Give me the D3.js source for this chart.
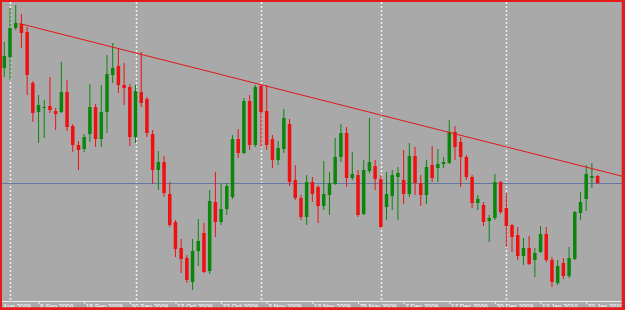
<!DOCTYPE html>
<html>
<head>
<meta charset="utf-8">
<script src="https://cdn.jsdelivr.net/npm/d3@7"></script>
<style>
  body { margin: 0; background: #fff; }
  svg { display: block; }
</style>
</head>
<body>
<div id="chart"></div>
<script>
'use strict';
    //daily bars from 31 Aug 2009 to 26 Jan 2010 (bigger = higher price)
    const open = [242, 253, 282, 286, 278, 227, 198, 202, 204, 199,
        198, 218, 184, 165, 161, 176, 203, 171, 198, 235,
        244, 225, 223, 173, 218, 211, 176, 140, 148, 116,
        88, 62, 52, 28, 59, 77, 39, 108, 88, 101,
        113, 171, 157, 209, 165, 224, 199, 171, 150, 161,
        186, 130, 112, 93, 128, 123, 104, 115, 126, 153,
        177, 132, 135, 96, 139, 144, 131, 103, 114, 133,
        130, 116, 154, 127, 115, 145, 142, 146, 147, 178,
        168, 153, 133, 107, 105, 89, 92, 128, 102, 85,
        75, 54, 62, 50, 58, 76, 50, 27, 47, 34,
        51, 97, 111, 132, 134];
    const close = [254, 282, 287, 277, 235, 197, 205, 203, 200, 196,
        218, 183, 165, 160, 173, 203, 171, 198, 236, 242,
        225, 222, 173, 219, 207, 177, 140, 148, 117, 85,
        61, 51, 30, 59, 69, 38, 109, 88, 101, 124,
        171, 157, 209, 165, 223, 198, 165, 150, 162, 192,
        128, 112, 93, 128, 116, 104, 116, 127, 153, 177,
        132, 136, 95, 140, 148, 131, 83, 116, 135, 137,
        116, 154, 127, 115, 143, 132, 146, 148, 178, 163,
        153, 133, 107, 111, 88, 92, 128, 98, 84, 73,
        54, 62, 46, 57, 76, 50, 28, 44, 34, 52,
        98, 108, 136, 134, 127];
    const high = [268, 302, 305, 296, 283, 229, 215, 210, 233, 202,
        248, 230, 186, 169, 176, 226, 206, 225, 255, 267,
        262, 247, 226, 225, 258, 213, 180, 159, 154, 128,
        90, 71, 55, 71, 91, 87, 120, 138, 127, 127,
        175, 181, 212, 215, 225, 226, 225, 175, 169, 201,
        191, 145, 115, 135, 133, 125, 149, 138, 172, 186,
        183, 158, 140, 150, 192, 150, 135, 138, 140, 143,
        160, 167, 163, 135, 150, 164, 161, 153, 190, 184,
        173, 155, 135, 115, 108, 95, 136, 129, 117, 86,
        83, 72, 74, 62, 84, 83, 53, 50, 52, 63,
        99, 118, 145, 147, 135];
    const low = [233, 230, 280, 262, 215, 188, 167, 172, 197, 180,
        197, 179, 158, 140, 158, 168, 163, 163, 177, 227,
        217, 205, 164, 167, 203, 173, 126, 120, 113, 83,
        53, 37, 27, 20, 44, 37, 36, 73, 85, 95,
        111, 152, 156, 160, 163, 163, 160, 142, 145, 157,
        124, 110, 90, 85, 108, 87, 100, 95, 125, 148,
        123, 130, 93, 95, 137, 120, 82, 90, 100, 90,
        106, 113, 115, 104, 106, 128, 128, 142, 146, 150,
        123, 130, 102, 100, 84, 68, 90, 96, 63, 58,
        50, 45, 45, 33, 57, 48, 23, 25, 31, 32,
        50, 90, 99, 122, 126];
    //no bars on these days
    const holidays = ["2009-12-25", "2010-01-01"];
    //dates under the time axis
    const tickDates = ["2009-08-27", "2009-09-08", "2009-09-18", "2009-09-30", "2009-10-12",
        "2009-10-22", "2009-11-03", "2009-11-13", "2009-11-25", "2009-12-07",
        "2009-12-17", "2009-12-30", "2010-01-12", "2010-01-22"];
    //trend line drawn over the highs, and the horizontal level
    const trendStart = ["2009-09-03", 286];
    const trendEnd = ["2010-01-26", 140];
    const level = 127;

    const width = 625;
    const height = 310;
    const axisY = 301;
    const fmt = d3.timeFormat("%Y-%m-%d");
    const parseTime = d3.timeParse("%Y-%m-%d");
    const labelFmt = d3.timeFormat("%-d %b %Y");

    //trading days only (27 and 28 Aug sit behind the frame)
    const days = d3.timeDay.range(new Date(2009, 7, 27), new Date(2010, 0, 27))
        .filter(function(d) { return d.getDay() !== 0 && d.getDay() !== 6; })
        .map(fmt)
        .filter(function(d) { return holidays.indexOf(d) < 0; });
    const first = days.indexOf("2009-08-31");
    const bars = open.map(function(o, i) {
        return {date: days[first + i], open: o, close: close[i], high: high[i], low: low[i]};
    });
    //first bar of every month gets a dashed line
    const monthStarts = days.filter(function(d, i) {
        return i > 0 && d.slice(5, 7) !== days[i - 1].slice(5, 7);
    });

    const x = d3.scalePoint().domain(days).range([-7.1, 597.6]);
    const y = d3.scaleLinear().domain([0, 310]).range([310, 0]);

    const svg = d3.select("#chart").append("svg")
        .attr("width", width)
        .attr("height", height);

    svg.append("rect")
        .attr("width", width)
        .attr("height", height)
        .attr("fill", "#a9a9a9");

    //month separators
    svg.selectAll(".grid").data(monthStarts).enter().append("line")
        .attr("class", "grid")
        .attr("x1", function(d) { return Math.round(x(d)) + 0.5; })
        .attr("x2", function(d) { return Math.round(x(d)) + 0.5; })
        .attr("y1", 2)
        .attr("y2", axisY)
        .attr("stroke", "#f2f2f2")
        .attr("stroke-width", 1.5)
        .attr("stroke-dasharray", "2,2");

    //horizontal level
    svg.append("line")
        .attr("x1", 0)
        .attr("x2", width)
        .attr("y1", Math.round(y(level)) + 0.5)
        .attr("y2", Math.round(y(level)) + 0.5)
        .attr("stroke", "#6478a6")
        .attr("stroke-width", 1);

    //time axis
    svg.append("line")
        .attr("x1", 0)
        .attr("x2", width)
        .attr("y1", axisY + 0.5)
        .attr("y2", axisY + 0.5)
        .attr("stroke", "#ececec");
    const axis = svg.append("g")
        .attr("transform", "translate(0," + axisY + ")")
        .call(d3.axisBottom(x)
            .tickValues(tickDates)
            .tickSize(3)
            .tickFormat(function(d) { return labelFmt(parseTime(d)); }));
    axis.select(".domain").remove();
    axis.selectAll(".tick line").attr("stroke", "#ececec");
    axis.selectAll(".tick text")
        .attr("x", 1)
        .attr("y", 8)
        .attr("dy", null)
        .attr("fill", "#ffffff")
        .style("text-anchor", "start")
        .style("font-family", "'Liberation Sans', Arial, sans-serif")
        .style("font-size", "6.5px");

    //candles
    function colour(d) {
        return d.close >= d.open ? "#0a870a" : "#f01010";
    }
    svg.selectAll(".wick").data(bars).enter().append("line")
        .attr("class", "wick")
        .attr("x1", function(d) { return x(d.date); })
        .attr("x2", function(d) { return x(d.date); })
        .attr("y1", function(d) { return y(d.high); })
        .attr("y2", function(d) { return y(d.low); })
        .attr("stroke", colour)
        .attr("stroke-width", 1);
    svg.selectAll(".body").data(bars).enter().append("rect")
        .attr("class", "body")
        .attr("x", function(d) { return x(d.date) - 1.75; })
        .attr("width", 3.5)
        .attr("y", function(d) { return y(Math.max(d.open, d.close)); })
        .attr("height", function(d) { return Math.max(1, Math.abs(y(d.open) - y(d.close))); })
        .attr("fill", colour);

    //trend line, carried on to the right edge
    const x1 = x(trendStart[0]);
    const y1 = y(trendStart[1]);
    const slope = (y(trendEnd[1]) - y1) / (x(trendEnd[0]) - x1);
    svg.append("line")
        .attr("x1", x1 - 2)
        .attr("y1", y1 - 2 * slope)
        .attr("x2", width)
        .attr("y2", y1 + (width - x1) * slope)
        .attr("stroke", "#e01818")
        .attr("stroke-width", 1);

    //red frame
    svg.append("path")
        .attr("d", "M0,0H" + width + "V" + height + "H0Z M2,2V307.3H621.7V2Z")
        .attr("fill", "#e41b1b")
        .attr("fill-rule", "evenodd");
</script>
</body>
</html>
